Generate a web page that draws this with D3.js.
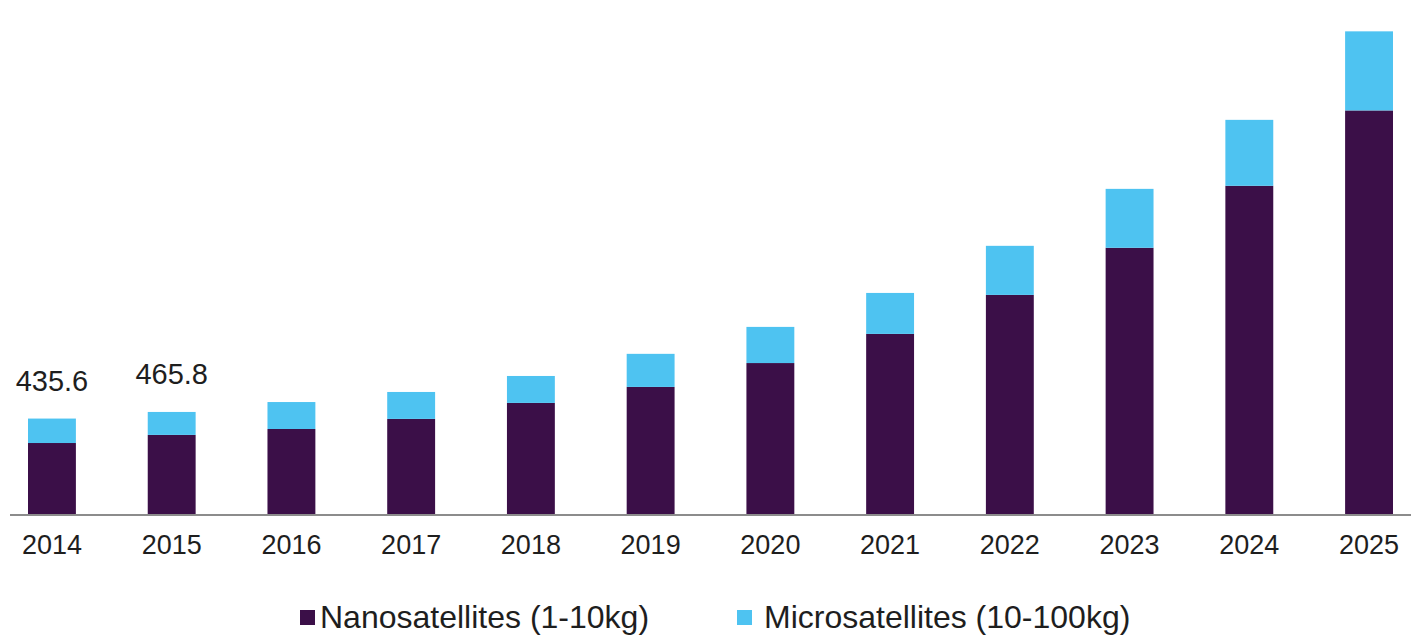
<!DOCTYPE html>
<html>
<head>
<meta charset="utf-8">
<script src="https://cdn.jsdelivr.net/npm/d3@7"></script>
<style>
  body { margin: 0; background: #fff; }
  text { font-family: "Liberation Sans", Arial, sans-serif; fill: #1e1e1e; }
</style>
</head>
<body>
<div id="chart"></div>
<script>
var years = ["2014","2015","2016","2017","2018","2019","2020","2021","2022","2023","2024","2025"];
var nano  = [324, 361, 388, 434, 507, 580, 689, 822, 1000, 1215, 1498, 1842];
var micro = [111.6, 104.8, 123, 123, 123, 151, 165, 187, 224, 269, 301, 361];
var labelYears = ["2014", "2015"];
var labelText = ["435.6", "465.8"];
var seriesNames = ["Nanosatellites (1-10kg)", "Microsatellites (10-100kg)"];

var width = 1411, height = 637;
var colors = ["#3b0f48", "#4ec3f1"];

var svg = d3.select("#chart").append("svg")
    .attr("width", width)
    .attr("height", height);

var x = d3.scaleBand().domain(years).range([28, 1393]).paddingInner(0.6).paddingOuter(0);
var y = d3.scaleLinear().domain([0, 2200]).range([514, 32]);

var rows = years.map(function(yr, i) { return {year: yr, nano: nano[i], micro: micro[i]}; });
var stack = d3.stack().keys(["nano", "micro"])(rows);

svg.selectAll("g.layer")
    .data(stack)
  .enter().append("g")
    .attr("class", "layer")
    .attr("fill", function(d, i) { return colors[i]; })
  .selectAll("rect")
    .data(function(d) { return d; })
  .enter().append("rect")
    .attr("x", function(d) { return x(d.data.year); })
    .attr("width", x.bandwidth())
    .attr("y", function(d) { return y(d[1]); })
    .attr("height", function(d) { return y(d[0]) - y(d[1]); });

// baseline
svg.append("line")
    .attr("x1", 10).attr("x2", width)
    .attr("y1", y(0) + 1).attr("y2", y(0) + 1)
    .attr("stroke", "#666").attr("stroke-width", 1.5);

// year labels
svg.selectAll("text.year")
    .data(years)
  .enter().append("text")
    .attr("class", "year")
    .attr("x", function(d) { return x(d) + x.bandwidth() / 2; })
    .attr("y", 554)
    .attr("text-anchor", "middle")
    .style("font-size", "27px")
    .text(function(d) { return d; });

// value labels
svg.selectAll("text.val")
    .data(labelYears)
  .enter().append("text")
    .attr("class", "val")
    .attr("x", function(d) { return x(d) + x.bandwidth() / 2; })
    .attr("y", function(d) { var i = years.indexOf(d); return y(nano[i] + micro[i]) - 28; })
    .attr("text-anchor", "middle")
    .style("font-size", "29px")
    .text(function(d, i) { return labelText[i]; });

// legend
var legendX = [300, 737];
var legend = svg.selectAll("g.legend")
    .data(seriesNames)
  .enter().append("g")
    .attr("class", "legend")
    .attr("transform", function(d, i) { return "translate(" + legendX[i] + ",0)"; });

legend.append("rect")
    .attr("x", 0).attr("y", 610)
    .attr("width", 15).attr("height", 15)
    .attr("fill", function(d, i) { return colors[i]; });

legend.append("text")
    .attr("x", function(d, i) { return i === 0 ? 20 : 27; })
    .attr("y", 628)
    .style("font-size", "32px")
    .text(function(d) { return d; });
</script>
</body>
</html>
